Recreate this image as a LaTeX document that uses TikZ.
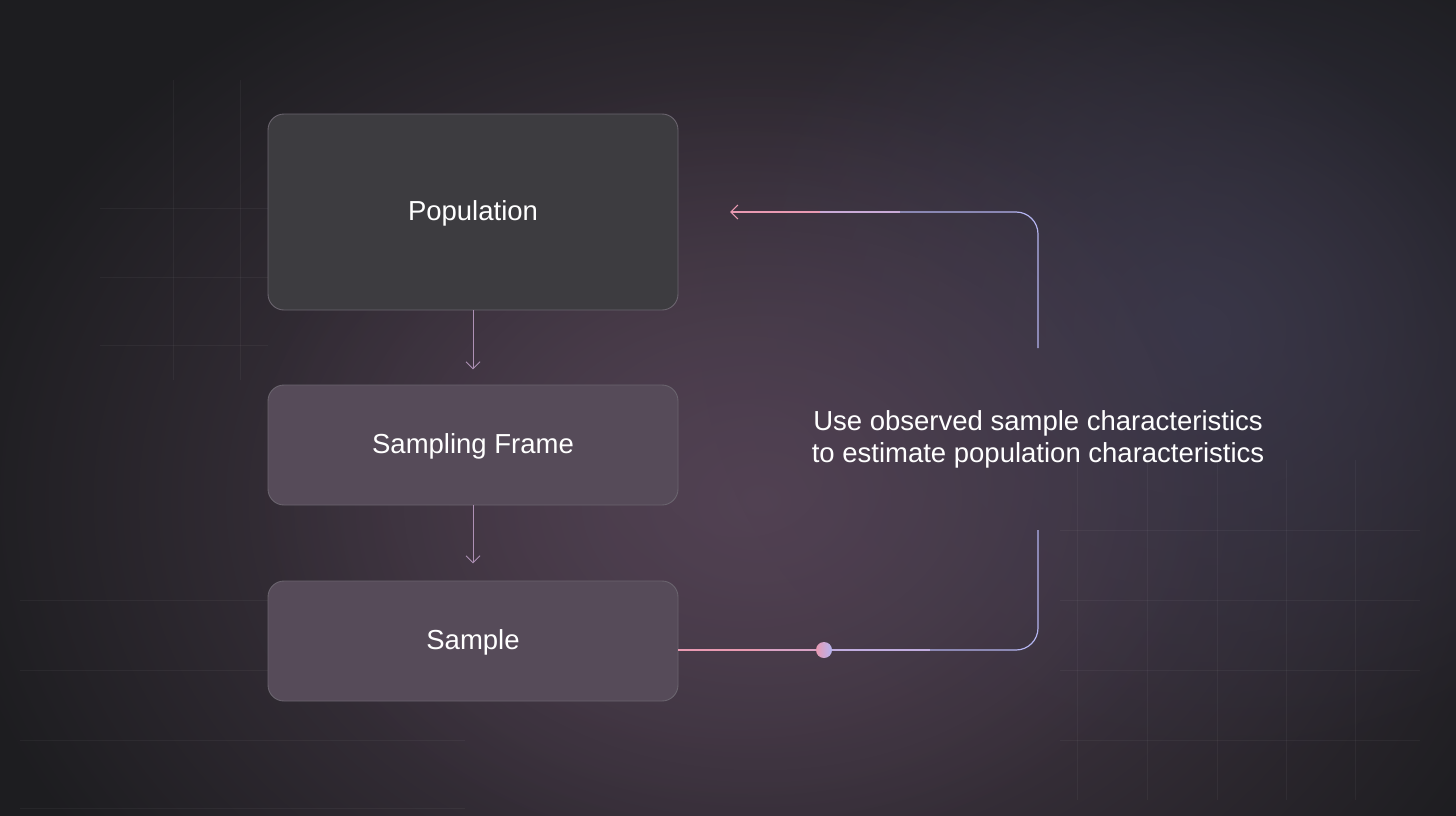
\documentclass[tikz,border=0pt]{standalone}
\usepackage{fontspec}
\setmainfont{Liberation Sans}
\usetikzlibrary{arrows.meta,fadings}
\definecolor{fondo}{HTML}{1D1D20}
\definecolor{malva}{HTML}{524253}
\definecolor{azulado}{HTML}{3C3A4E}
\definecolor{rosa}{HTML}{E99AB2}
\definecolor{lila}{HTML}{B4B4F0}
\definecolor{cajaA}{HTML}{3D3C40}
\definecolor{cajaB}{HTML}{564B59}
\definecolor{borde}{HTML}{6A646E}
\tikzfading[name=brillo,inner color=transparent!0,outer color=transparent!100]

\begin{document}
\begin{tikzpicture}[x=1pt,y=-1pt,line width=1.2pt,>={Straight Barb[length=7pt,width=14pt]},
  caja/.style={draw=borde,line width=0.9pt,rounded corners=16pt,minimum width=410pt,
    text=white,font=\fontsize{27.5}{33}\selectfont,text height=19pt,text depth=2pt},
  rejilla/.style={white,opacity=0.045,line width=0.8pt}]
  % fondo
  \useasboundingbox (0,0) rectangle (1456,816);
  \fill[fondo] (0,0) rectangle (1456,816);
  \fill[malva,path fading=brillo,fit fading=true] (760,500) ellipse (820 and 620);
  \fill[azulado,path fading=brillo,fit fading=true,opacity=0.8] (1200,330) ellipse (500 and 440);
  \fill[malva,path fading=brillo,fit fading=true,opacity=0.6] (740,470) ellipse (500 and 400);
  % rejilla tenue
  \foreach \y in {600,670,740,808} \draw[rejilla] (20,\y) -- (465,\y);
  \foreach \y in {208,277,345} \draw[rejilla] (100,\y) -- (268,\y);
  \foreach \x in {173,240} \draw[rejilla] (\x,80) -- (\x,380);
  \foreach \y in {530,600,670,740} \draw[rejilla] (1060,\y) -- (1420,\y);
  \foreach \x in {1077,1147,1217,1286,1355} \draw[rejilla] (\x,460) -- (\x,800);
  % cajas
  \node[caja,fill=cajaA,minimum height=196pt] (pob) at (473,212) {Population};
  \node[caja,fill=cajaB,minimum height=120pt] (marco) at (473,445) {Sampling Frame};
  \node[caja,fill=cajaB,minimum height=120pt] (mues) at (473,641) {Sample};
  % flechas hacia abajo
  \draw[->,lila!55!rosa!75!cajaB,line width=1pt] (pob.south) -- ++(0,59);
  \draw[->,lila!55!rosa!75!cajaB,line width=1pt] (marco.south) -- ++(0,58);
  % texto del lazo
  \node[text=white,font=\fontsize{27.5}{32}\selectfont,align=center] (obs) at (1038,439)
    {Use observed sample characteristics\\to estimate population characteristics};
  \coordinate (abajo) at (1038,650);
  \coordinate (arriba) at (1038,212);
  \coordinate (corteA) at (1038,530);
  \coordinate (corteB) at (1038,348);
  \coordinate (punta) at (730,212);
  % lazo de vuelta
  \draw[rosa] (mues.east |- abajo) -- (760,650);
  \draw[rosa!70!lila] (760,650) -- (824,650);
  \draw[lila!75!rosa] (824,650) -- (930,650);
  \draw[lila,rounded corners=22pt] (930,650) -- (abajo) -- (corteA);
  \draw[lila,rounded corners=22pt] (corteB) -- (arriba) -- (900,212);
  \draw[lila!60!rosa] (900,212) -- (820,212);
  \draw[->,rosa] (820,212) -- (punta);
  \node[circle,inner sep=0pt,minimum size=16pt,left color=rosa,right color=lila] (punto) at (824,650) {};
\end{tikzpicture}
\end{document}
